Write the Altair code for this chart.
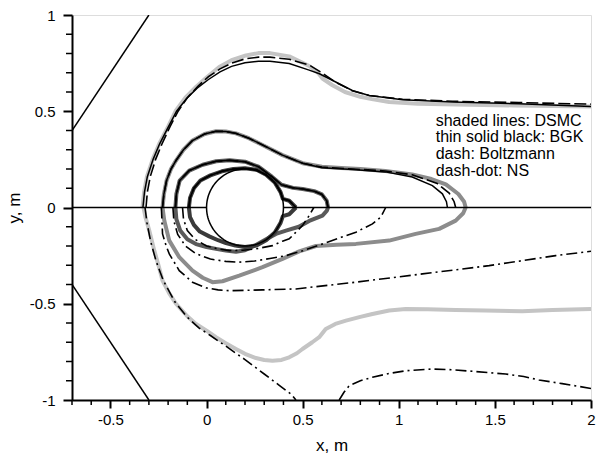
import altair as alt
import pandas as pd
import numpy as np

FONT = "Liberation Sans"

# ---------------- tick positions ----------------
X_MAJOR = [-0.5, 0.0, 0.5, 1.0, 1.5, 2.0]
X_MINOR = [-0.7, -0.6, -0.4, -0.3, -0.2, -0.1, 0.1, 0.2, 0.3, 0.4, 0.6, 0.7, 0.8, 0.9,
           1.1, 1.2, 1.3, 1.4, 1.6, 1.7, 1.8, 1.9]
Y_MAJOR = [-1.0, -0.5, 0.0, 0.5, 1.0]
Y_MINOR = [-0.9, -0.8, -0.7, -0.6, -0.4, -0.3, -0.2, -0.1,
           0.1, 0.2, 0.3, 0.4, 0.6, 0.7, 0.8, 0.9]

# ---------------- upper half: DSMC (shaded) ----------------
DSMC_A_UP = [(-0.333, 0.0), (-0.325, 0.08), (-0.31, 0.16), (-0.28, 0.25), (-0.246, 0.331),
             (-0.2, 0.42), (-0.159, 0.504), (-0.11, 0.57), (-0.055, 0.626), (0.0, 0.675),
             (0.066, 0.73), (0.13, 0.765), (0.205, 0.79), (0.27, 0.802), (0.33, 0.802),
             (0.43, 0.785), (0.534, 0.735), (0.58, 0.7), (0.603, 0.67), (0.655, 0.635),
             (0.72, 0.6), (0.8, 0.575), (0.86, 0.563), (0.95, 0.548), (1.1, 0.539),
             (1.3, 0.535), (1.6, 0.53), (2.0, 0.525)]
DSMC_B_UP = [(-0.229, 0.0), (-0.222, 0.07), (-0.208, 0.14), (-0.185, 0.2), (-0.159, 0.244),
             (-0.12, 0.3), (-0.073, 0.348), (-0.01, 0.382), (0.049, 0.396), (0.1, 0.395),
             (0.153, 0.385), (0.22, 0.36), (0.291, 0.325), (0.395, 0.272), (0.5, 0.23),
             (0.6, 0.212), (0.7, 0.205), (0.8, 0.2), (0.93, 0.19), (1.07, 0.172),
             (1.17, 0.148), (1.245, 0.12), (1.31, 0.07), (1.34, 0.03), (1.348, 0.0)]
DSMC_C_UP = [(-0.162, 0.0), (-0.157, 0.07), (-0.14, 0.14), (-0.09, 0.192), (-0.02, 0.222),
             (0.05, 0.24), (0.12, 0.245), (0.2, 0.238), (0.27, 0.212), (0.34, 0.16),
             (0.39, 0.118), (0.45, 0.102), (0.5, 0.096), (0.56, 0.085), (0.6, 0.068),
             (0.625, 0.035), (0.632, 0.0)]
DSMC_D_UP = [(-0.092, 0.0), (-0.086, 0.05), (-0.066, 0.1), (-0.032, 0.14), (0.02, 0.167),
             (0.08, 0.188), (0.14, 0.2), (0.2, 0.204), (0.26, 0.196), (0.31, 0.17),
             (0.355, 0.13), (0.385, 0.08), (0.397, 0.045), (0.43, 0.035), (0.465, 0.0)]

# ---------------- upper half: BGK (thin solid) ----------------
BGK_A = [(-0.331, 0.0), (-0.323, 0.08), (-0.308, 0.16), (-0.278, 0.25), (-0.244, 0.331),
         (-0.198, 0.42), (-0.156, 0.5), (-0.105, 0.565), (-0.049, 0.62), (0.01, 0.665),
         (0.07, 0.705), (0.13, 0.733), (0.2, 0.752), (0.27, 0.76), (0.33, 0.76),
         (0.43, 0.748), (0.53, 0.715), (0.587, 0.695), (0.672, 0.652), (0.758, 0.608),
         (0.846, 0.582), (1.02, 0.56), (1.28, 0.548), (1.625, 0.539), (2.0, 0.525)]
BGK_B = [(-0.229, 0.0), (-0.222, 0.07), (-0.208, 0.14), (-0.185, 0.2), (-0.159, 0.244),
         (-0.12, 0.3), (-0.073, 0.348), (-0.01, 0.382), (0.049, 0.396), (0.1, 0.395),
         (0.153, 0.385), (0.22, 0.36), (0.291, 0.325), (0.395, 0.272), (0.5, 0.23),
         (0.6, 0.207), (0.76, 0.197), (0.93, 0.185), (1.07, 0.158), (1.175, 0.114),
         (1.227, 0.071), (1.248, 0.03), (1.253, 0.0)]
BGK_C = DSMC_C_UP
BGK_D = DSMC_D_UP

# ---------------- upper half: Boltzmann (dash) ----------------
BOLTZ_A = [(-0.315, 0.0), (-0.308, 0.08), (-0.293, 0.16), (-0.265, 0.25), (-0.232, 0.33),
           (-0.19, 0.42), (-0.148, 0.5), (-0.1, 0.57), (-0.045, 0.63), (0.01, 0.68),
           (0.07, 0.72), (0.13, 0.75), (0.2, 0.772), (0.27, 0.781), (0.33, 0.781),
           (0.43, 0.77), (0.534, 0.74), (0.6, 0.7), (0.672, 0.65), (0.758, 0.607),
           (0.846, 0.582), (1.02, 0.562), (1.28, 0.552), (1.625, 0.545), (2.0, 0.537)]
BOLTZ_B = [(-0.229, 0.0), (-0.222, 0.07), (-0.208, 0.14), (-0.185, 0.2), (-0.159, 0.244),
           (-0.12, 0.3), (-0.073, 0.348), (-0.01, 0.382), (0.049, 0.396), (0.1, 0.395),
           (0.153, 0.385), (0.22, 0.36), (0.291, 0.325), (0.395, 0.272), (0.5, 0.23),
           (0.6, 0.21), (0.76, 0.2), (0.93, 0.19), (1.07, 0.17), (1.2, 0.125),
           (1.262, 0.075), (1.288, 0.03), (1.296, 0.0)]
BOLTZ_C = DSMC_C_UP
BOLTZ_D = DSMC_D_UP

# ---------------- lower half: DSMC (shaded) ----------------
DSMC_A_LO = [(-0.328, 0.0), (-0.318, -0.05), (-0.298, -0.12), (-0.272, -0.224), (-0.25, -0.3),
             (-0.229, -0.38), (-0.195, -0.445), (-0.159, -0.5), (-0.1, -0.565), (-0.055, -0.605),
             (0.0, -0.64), (0.049, -0.674), (0.1, -0.705), (0.153, -0.735), (0.2, -0.76),
             (0.257, -0.782), (0.3, -0.792), (0.343, -0.796), (0.39, -0.792), (0.43, -0.778),
             (0.47, -0.757), (0.499, -0.735), (0.55, -0.7), (0.586, -0.674), (0.62, -0.631),
             (0.67, -0.605), (0.725, -0.588), (0.8, -0.568), (0.863, -0.553), (0.95, -0.535),
             (1.036, -0.527), (1.15, -0.528), (1.296, -0.532), (1.45, -0.535), (1.642, -0.539),
             (1.8, -0.533), (2.0, -0.527)]
DSMC_B_LO = [(-0.229, 0.0), (-0.22, -0.068), (-0.194, -0.172), (-0.142, -0.258), (-0.073, -0.328),
             (-0.02, -0.365), (0.031, -0.388), (0.083, -0.383), (0.17, -0.354), (0.291, -0.31),
             (0.395, -0.267), (0.482, -0.228), (0.569, -0.2), (0.677, -0.193), (0.777, -0.189),
             (0.95, -0.172), (1.088, -0.137), (1.21, -0.111), (1.296, -0.068), (1.335, -0.03),
             (1.348, 0.0)]
DSMC_C_LO = [(-0.162, 0.0), (-0.157, -0.06), (-0.137, -0.12), (-0.1, -0.165), (-0.055, -0.19),
             (0.0, -0.205), (0.049, -0.215), (0.1, -0.224), (0.153, -0.23), (0.2, -0.222),
             (0.257, -0.195), (0.31, -0.165), (0.361, -0.137), (0.413, -0.12), (0.48, -0.1),
             (0.534, -0.07), (0.603, -0.042), (0.625, -0.018), (0.632, 0.0)]
DSMC_D_LO = [(-0.092, 0.0), (-0.086, -0.05), (-0.066, -0.09), (-0.035, -0.125), (0.014, -0.15),
             (0.06, -0.17), (0.101, -0.185), (0.15, -0.198), (0.2, -0.205), (0.26, -0.197),
             (0.31, -0.17), (0.355, -0.13), (0.385, -0.08), (0.397, -0.045), (0.43, -0.035),
             (0.465, 0.0)]

# ---------------- lower half: NS (dash-dot) ----------------
NS_A = [(-0.32, 0.0), (-0.31, -0.08), (-0.29, -0.18), (-0.262, -0.28), (-0.225, -0.38),
        (-0.165, -0.49), (-0.1, -0.57), (-0.04, -0.625), (0.02, -0.665), (0.1, -0.72),
        (0.2, -0.79), (0.3, -0.865), (0.38, -0.925), (0.44, -0.97), (0.465, -1.0)]
NS_A2 = [(0.69, -1.0), (0.715, -0.96), (0.742, -0.926), (0.8, -0.9), (0.863, -0.882),
         (0.95, -0.862), (1.036, -0.848), (1.175, -0.839), (1.28, -0.843), (1.383, -0.851),
         (1.556, -0.865), (1.65, -0.878), (1.729, -0.896), (1.85, -0.915), (2.0, -0.94)]
NS_B = [(-0.235, 0.0), (-0.232, -0.07), (-0.229, -0.137), (-0.21, -0.2), (-0.194, -0.241),
        (-0.142, -0.328), (-0.073, -0.388), (0.0, -0.418), (0.06, -0.428), (0.118, -0.432),
        (0.291, -0.428), (0.465, -0.423), (0.777, -0.388), (1.123, -0.345), (1.47, -0.302),
        (1.816, -0.25), (2.0, -0.227)]
NS_C = [(-0.175, 0.0), (-0.17, -0.07), (-0.15, -0.14), (-0.11, -0.2), (-0.055, -0.24),
        (0.02, -0.268), (0.1, -0.28), (0.17, -0.284), (0.25, -0.278), (0.33, -0.265),
        (0.413, -0.25), (0.5, -0.225), (0.603, -0.189), (0.7, -0.155), (0.777, -0.128),
        (0.863, -0.085), (0.906, -0.05), (0.932, 0.0)]
NS_D = [(-0.125, 0.0), (-0.12, -0.06), (-0.1, -0.12), (-0.06, -0.165), (0.0, -0.2),
        (0.06, -0.215), (0.118, -0.224), (0.19, -0.222), (0.257, -0.215), (0.343, -0.198),
        (0.395, -0.175), (0.43, -0.163), (0.499, -0.094), (0.534, -0.042), (0.558, 0.0)]

# ---------------- geometry ----------------
INFLOW_UPPER = [(-0.7, 0.4), (-0.3, 1.0)]
INFLOW_LOWER = [(-0.7, -0.4), (-0.3, -1.0)]
SYM_LEFT = [(-0.7, 0.0), (0.0, 0.0)]
SYM_RIGHT = [(0.4, 0.0), (2.0, 0.0)]
CYL_CENTER = (0.2, 0.0)
CYL_RADIUS = 0.2

LEGEND_LINES = ["shaded lines: DSMC", "thin solid black: BGK", "dash: Boltzmann", "dash-dot: NS"]
LEGEND_X = 1.192
LEGEND_Y = [0.449, 0.366, 0.279, 0.192]

PLOT_W, PLOT_H = 519, 385


def frame(pairs, name, group=""):
    return pd.DataFrame({
        "line": name, "shade": group, "i": list(range(len(pairs))),
        "x": [p[0] for p in pairs], "y": [p[1] for p in pairs],
    })


dsmc_df = pd.concat([
    frame(DSMC_A_UP, "Au", "A"), frame(DSMC_A_LO, "Al", "A"),
    frame(DSMC_B_UP, "Bu", "B"), frame(DSMC_B_LO, "Bl", "B"),
    frame(DSMC_C_UP, "Cu", "C"), frame(DSMC_C_LO, "Cl", "C"),
    frame(DSMC_D_UP, "Du", "D"), frame(DSMC_D_LO, "Dl", "D"),
])
bgk_df = pd.concat([frame(BGK_A, "a"), frame(BGK_B, "b"), frame(BGK_C, "c"), frame(BGK_D, "d")])
boltz_df = pd.concat([frame(BOLTZ_A, "a"), frame(BOLTZ_B, "b"), frame(BOLTZ_C, "c"), frame(BOLTZ_D, "d")])
ns_df = pd.concat([frame(NS_A, "a"), frame(NS_A2, "a2"), frame(NS_B, "b"),
                   frame(NS_C, "c"), frame(NS_D, "d")])
theta = np.linspace(0, 2 * np.pi, 121)
cyl = list(zip(CYL_CENTER[0] + CYL_RADIUS * np.cos(theta), CYL_CENTER[1] + CYL_RADIUS * np.sin(theta)))
geom_df = pd.concat([frame(INFLOW_UPPER, "iu"), frame(INFLOW_LOWER, "il"),
                     frame(SYM_LEFT, "sl"), frame(SYM_RIGHT, "sr"), frame(cyl, "cyl")])
legend_df = pd.DataFrame({"t": LEGEND_LINES, "x": LEGEND_X, "y": LEGEND_Y})
xminor_df = pd.DataFrame({"x": X_MINOR})
yminor_df = pd.DataFrame({"y": Y_MINOR})

label_expr = "toString(round(datum.value*10)/10)"

x_axis = alt.Axis(values=X_MAJOR, labelExpr=label_expr, title="x, m", grid=False,
                  tickSize=8, tickWidth=2, tickColor="black", domainColor="black", domainWidth=2,
                  labelFont=FONT, labelFontSize=15, labelColor="black", labelPadding=4,
                  titleFont=FONT, titleFontSize=17, titleFontWeight="normal", titleColor="black",
                  titlePadding=10, labelFlush=False, labelOverlap=False)
y_axis = alt.Axis(values=Y_MAJOR, labelExpr=label_expr, title="y, m", grid=False,
                  tickSize=9, tickWidth=2, tickColor="black", domainColor="black", domainWidth=2,
                  labelFont=FONT, labelFontSize=15, labelColor="black", labelPadding=8,
                  titleFont=FONT, titleFontSize=17, titleFontWeight="normal", titleColor="black",
                  titlePadding=6, labelFlush=False, labelOverlap=False)

X = alt.X("x:Q", scale=alt.Scale(domain=[-0.7, 2.0], nice=False, zero=False), axis=x_axis)
Y = alt.Y("y:Q", scale=alt.Scale(domain=[-1.0, 1.0], nice=False, zero=False), axis=y_axis)

dsmc = alt.Chart(dsmc_df).mark_line(strokeWidth=4, clip=True, strokeJoin="round").encode(
    x=X, y=Y, detail="line:N", order="i:Q",
    color=alt.Color("shade:N", legend=None,
                    scale=alt.Scale(domain=["A", "B", "C", "D"],
                                    range=["#c4c4c4", "#8c8c8c", "#5a5a5a", "#3a3a3a"])))
ns = alt.Chart(ns_df).mark_line(strokeWidth=1.6, color="black", strokeDash=[11, 4, 2, 4], clip=True).encode(
    x=X, y=Y, detail="line:N", order="i:Q")
boltz = alt.Chart(boltz_df).mark_line(strokeWidth=1.6, color="black", strokeDash=[12, 4], clip=True).encode(
    x=X, y=Y, detail="line:N", order="i:Q")
bgk = alt.Chart(bgk_df).mark_line(strokeWidth=1.5, color="black", clip=True).encode(
    x=X, y=Y, detail="line:N", order="i:Q")
geom = alt.Chart(geom_df).mark_line(strokeWidth=1.5, color="black", clip=True).encode(
    x=X, y=Y, detail="line:N", order="i:Q")
legend = alt.Chart(legend_df).mark_text(align="left", baseline="middle", font=FONT,
                                        fontSize=16, color="black").encode(x=X, y=Y, text="t:N")
xminor = alt.Chart(xminor_df).mark_rule(strokeWidth=1.5, color="black").encode(
    x=X, y=alt.value(PLOT_H), y2=alt.value(PLOT_H + 5))
yminor = alt.Chart(yminor_df).mark_rule(strokeWidth=1.5, color="black").encode(
    y=Y, x=alt.value(0), x2=alt.value(-6))

chart = alt.layer(dsmc, ns, boltz, bgk, geom, legend, xminor, yminor).properties(
    width=PLOT_W, height=PLOT_H,
    autosize=alt.AutoSizeParams(type="none"),
    padding={"left": 72, "top": 15, "right": 5, "bottom": 58},
).configure_view(stroke="black", strokeWidth=1.5).configure(background="white")

chart.save("out.html", embed_options={"renderer": "svg", "actions": False})
